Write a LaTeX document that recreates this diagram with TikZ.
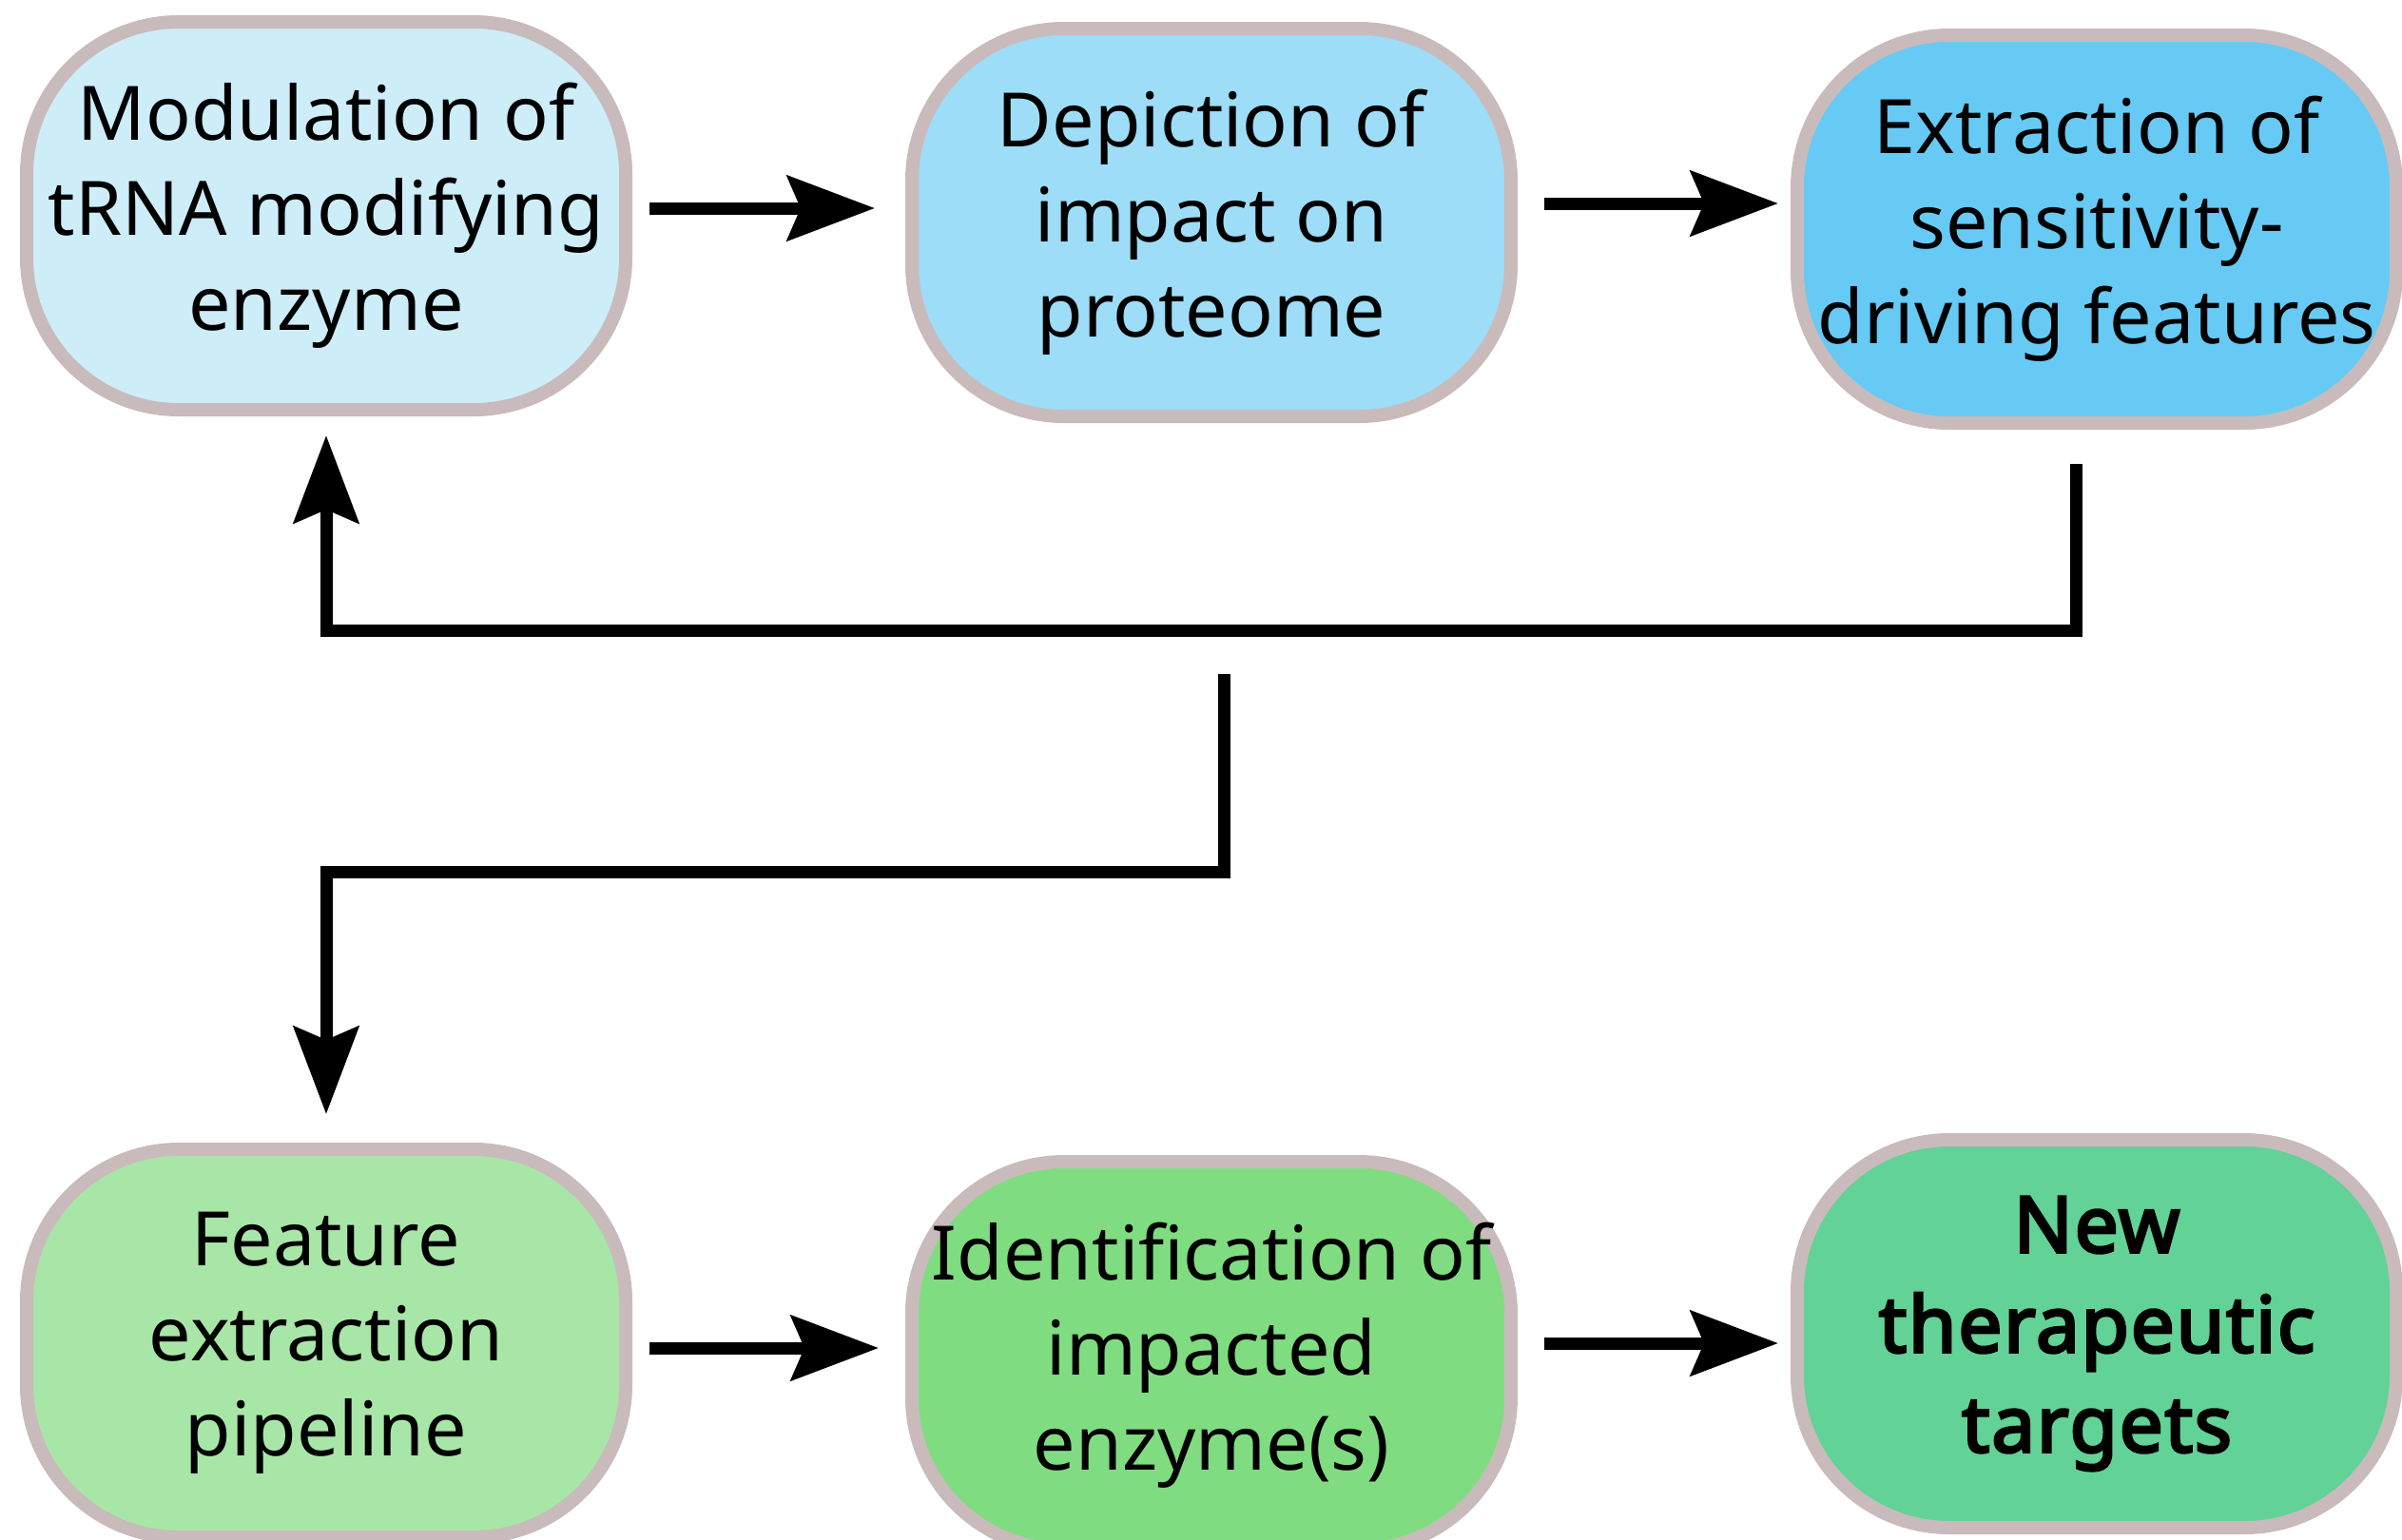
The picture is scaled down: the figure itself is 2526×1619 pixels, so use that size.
\documentclass[tikz,border=0pt]{standalone}
\usepackage{fontspec}
\setmainfont{Noto Sans}
\newfontfamily\boldsans{Noto Sans}[FakeBold=3.5, LetterSpace=2]
\usetikzlibrary{arrows.meta}
\definecolor{bordc}{HTML}{C9BBBB}
\definecolor{cA}{HTML}{CDEDF9}
\definecolor{cB}{HTML}{9DDDF7}
\definecolor{cC}{HTML}{66CAF4}
\definecolor{cD}{HTML}{A8E6A8}
\definecolor{cE}{HTML}{80DC80}
\definecolor{cF}{HTML}{62D296}
\tikzset{
  box/.style={draw=bordc, line width=7pt, rounded corners=80pt,
    minimum width=315pt, minimum height=204pt, align=center, inner sep=0pt,
    font=\fontsize{39.5}{50}\selectfont},
  conn/.style={draw=black, line width=6.5pt,
    -{Stealth[length=46pt, width=34pt, inset=7pt]}}
}
\begin{document}
\begin{tikzpicture}[x=0.5pt, y=-0.5pt]
\useasboundingbox (0,0) rectangle (2526,1619);
\node[box, fill=cA] (b1) at (343,227) {Modulation of\\tRNA modifying\\enzyme};
\node[box, fill=cB] (b2) at (1274,234) {Depiction of\\impact on\\proteome};
\node[box, fill=cC] (b3) at (2205,241) {Extraction of\\sensitivity-\\driving features};
\node[box, fill=cD] (b4) at (343,1413) {Feature\\extraction\\pipeline};
\node[box, fill=cE] (b5) at (1274,1426) {Identification of\\impacted\\enzyme(s)};
\node[box, fill=cF, font=\boldsans\fontsize{41}{52.5}\selectfont] (b6) at (2205,1403) {New\\therapeutic\\targets};

\coordinate (hy1) at (0,663);
\coordinate (hy2) at (0,917);
\coordinate (s2) at (1287,709);

\draw[conn, shorten <=9pt, shorten >=16pt] ([yshift=4pt]b1.east) -- ([yshift=4pt]b1.east -| b2.west);
\draw[conn, shorten <=14pt, shorten >=6.5pt] ([yshift=10pt]b2.east) -- ([yshift=10pt]b2.east -| b3.west);
\draw[conn, shorten <=9pt, shorten >=14pt] ([yshift=-2.5pt]b4.east) -- ([yshift=-2.5pt]b4.east -| b5.west);
\draw[conn, shorten <=14pt, shorten >=6.5pt] ([yshift=6.5pt]b5.east) -- ([yshift=6.5pt]b5.east -| b6.west);

\draw[conn, shorten <=18pt, shorten >=10pt] ([xshift=-11pt]b3.south) -- ([xshift=-11pt]b3.south |- hy1) -| (b1.south);
\draw[conn, shorten >=15pt] (s2) -- (s2 |- hy2) -| (b4.north);
\end{tikzpicture}
\end{document}
